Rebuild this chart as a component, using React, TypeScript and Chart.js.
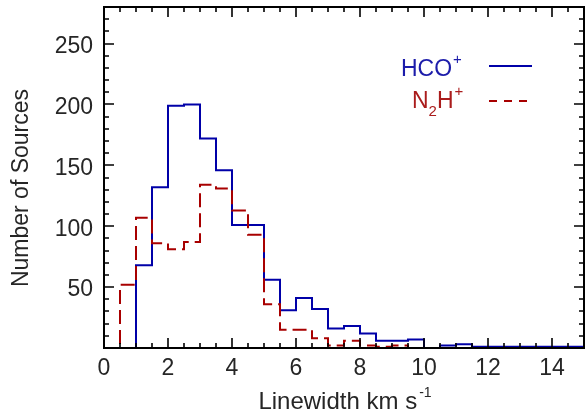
import React, { useEffect, useRef } from "react";
import { Chart, registerables } from "chart.js";

Chart.register(...registerables);

// Left edges of the 0.5 km/s bins (last entry closes the final bin)
const binEdges = [
  0, 0.5, 1, 1.5, 2, 2.5, 3, 3.5, 4, 4.5, 5, 5.5, 6, 6.5, 7, 7.5, 8, 8.5, 9, 9.5,
  10, 10.5, 11, 11.5, 12, 12.5, 13, 13.5, 14, 14.5, 15,
];
const hcoCounts = [
  0, 0, 68, 132, 199, 200, 172, 146, 101, 101, 56, 31, 41, 32, 16, 18, 12, 6, 6, 7,
  0, 2, 3, 1, 1, 1, 1, 1, 1, 1,
];
const n2hCounts = [
  0, 52, 107, 86, 81, 87, 134, 131, 113, 93, 36, 15, 15, 8, 2, 6, 2, 1, 2, 0,
  0, 0, 0, 0, 0, 0, 0, 0, 0, 0,
];
const xTickValues = [0, 2, 4, 6, 8, 10, 12, 14];
const xTickLabels = ["0", "2", "4", "6", "8", "10", "12", "14"];
const yTickValues = [50, 100, 150, 200, 250];
const yTickLabels = ["50", "100", "150", "200", "250"];
const xMinorStep = 0.5;
const yMinorStep = 10;

const BLUE = "#0000a8";
const RED = "#a80000";
const TEXT = "#262626";
const FONT = '"Liberation Sans", Arial, Helvetica, sans-serif';

function toPoints(counts: number[]) {
  const pts = counts.map((c, i) => ({ x: binEdges[i], y: c }));
  pts.push({ x: binEdges[counts.length], y: counts[counts.length - 1] });
  return pts;
}

const framePlugin = {
  id: "idlFrame",
  afterDraw(chart: any) {
    const ctx = chart.ctx as CanvasRenderingContext2D;
    const { left, right, top, bottom } = chart.chartArea;
    const xs = chart.scales.x;
    const ys = chart.scales.y;
    ctx.save();
    ctx.strokeStyle = "#000";
    ctx.lineWidth = 2;
    ctx.strokeRect(left, top, right - left, bottom - top);

    ctx.lineWidth = 1.6;
    ctx.beginPath();
    for (let v = xs.min; v <= xs.max + 1e-9; v += xMinorStep) {
      const px = Math.round(xs.getPixelForValue(v));
      const major = xTickValues.some((t) => Math.abs(t - v) < 1e-6);
      const len = major ? 10 : 5;
      ctx.moveTo(px, bottom);
      ctx.lineTo(px, bottom - len);
      ctx.moveTo(px, top);
      ctx.lineTo(px, top + len);
    }
    for (let v = ys.min; v <= ys.max + 1e-9; v += yMinorStep) {
      const py = Math.round(ys.getPixelForValue(v));
      const major = yTickValues.some((t) => Math.abs(t - v) < 1e-6);
      const len = major ? 10 : 5;
      ctx.moveTo(left, py);
      ctx.lineTo(left + len, py);
      ctx.moveTo(right, py);
      ctx.lineTo(right - len, py);
    }
    ctx.stroke();

    // tick labels
    ctx.fillStyle = TEXT;
    ctx.font = `23px ${FONT}`;
    ctx.textAlign = "center";
    ctx.textBaseline = "alphabetic";
    xTickValues.forEach((v, i) => {
      ctx.fillText(xTickLabels[i], xs.getPixelForValue(v), 375);
    });
    ctx.textAlign = "right";
    ctx.textBaseline = "middle";
    yTickValues.forEach((v, i) => {
      ctx.fillText(yTickLabels[i], left - 11, ys.getPixelForValue(v) + 3);
    });

    // y title
    ctx.save();
    ctx.translate(22, 188);
    ctx.rotate(-Math.PI / 2);
    ctx.textAlign = "center";
    ctx.textBaseline = "middle";
    ctx.fillText("Number of Sources", 0, 0);
    ctx.restore();

    // x title with superscript
    ctx.textBaseline = "alphabetic";
    ctx.textAlign = "left";
    const main = "Linewidth km s";
    ctx.font = `24px ${FONT}`;
    const wMain = ctx.measureText(main).width;
    ctx.font = `14px ${FONT}`;
    const wSup = ctx.measureText("-1").width;
    const x0 = 345 - (wMain + wSup + 2) / 2;
    ctx.font = `24px ${FONT}`;
    ctx.fillText(main, x0, 409);
    ctx.font = `14px ${FONT}`;
    ctx.fillText("-1", x0 + wMain + 2, 397);

    // legend
    ctx.font = `23px ${FONT}`;
    ctx.fillStyle = "#1c1caa";
    ctx.fillText("HCO", 401, 76);
    const wH = ctx.measureText("HCO").width;
    ctx.font = `15px ${FONT}`;
    ctx.fillText("+", 401 + wH + 1, 64);

    ctx.fillStyle = "#aa1c1c";
    ctx.font = `23px ${FONT}`;
    ctx.fillText("N", 412, 108);
    const wN = ctx.measureText("N").width;
    ctx.font = `15px ${FONT}`;
    ctx.fillText("2", 412 + wN, 116);
    const w2 = ctx.measureText("2").width;
    ctx.font = `23px ${FONT}`;
    ctx.fillText("H", 412 + wN + w2, 108);
    const wHH = ctx.measureText("H").width;
    ctx.font = `15px ${FONT}`;
    ctx.fillText("+", 412 + wN + w2 + wHH + 1, 96);

    ctx.lineWidth = 2;
    ctx.strokeStyle = BLUE;
    ctx.beginPath();
    ctx.moveTo(489, 66);
    ctx.lineTo(532, 66);
    ctx.stroke();
    ctx.strokeStyle = RED;
    ctx.setLineDash([8, 7]);
    ctx.beginPath();
    ctx.moveTo(489, 101);
    ctx.lineTo(531, 101);
    ctx.stroke();
    ctx.setLineDash([]);
    ctx.restore();
  },
};

export default function App() {
  const ref = useRef<HTMLCanvasElement | null>(null);
  useEffect(() => {
    if (!ref.current) return;
    const chart = new Chart(ref.current, {
      type: "line",
      data: {
        datasets: [
          {
            label: "N2H+",
            data: toPoints(n2hCounts),
            borderColor: RED,
            borderWidth: 2,
            borderDash: [14, 6],
            stepped: true,
            fill: false,
            pointRadius: 0,
            clip: false as any,
          },
          {
            label: "HCO+",
            data: toPoints(hcoCounts),
            borderColor: BLUE,
            borderWidth: 2,
            stepped: true,
            fill: false,
            pointRadius: 0,
            clip: false as any,
          },
        ],
      },
      options: {
        animation: false,
        responsive: false,
        maintainAspectRatio: false,
        layout: { padding: { left: 104, right: 1, top: 7, bottom: 72 } },
        plugins: { legend: { display: false }, tooltip: { enabled: false } },
        scales: {
          x: { type: "linear", min: 0, max: 15, display: false },
          y: { type: "linear", min: 0, max: 280, display: false },
        },
      },
      plugins: [framePlugin],
    });
    return () => chart.destroy();
  }, []);
  return (
    <div style={{ position: "absolute", left: 0, top: 0, width: 585, height: 420, background: "#fff" }}>
      <canvas ref={ref} width={585} height={420} />
    </div>
  );
}
